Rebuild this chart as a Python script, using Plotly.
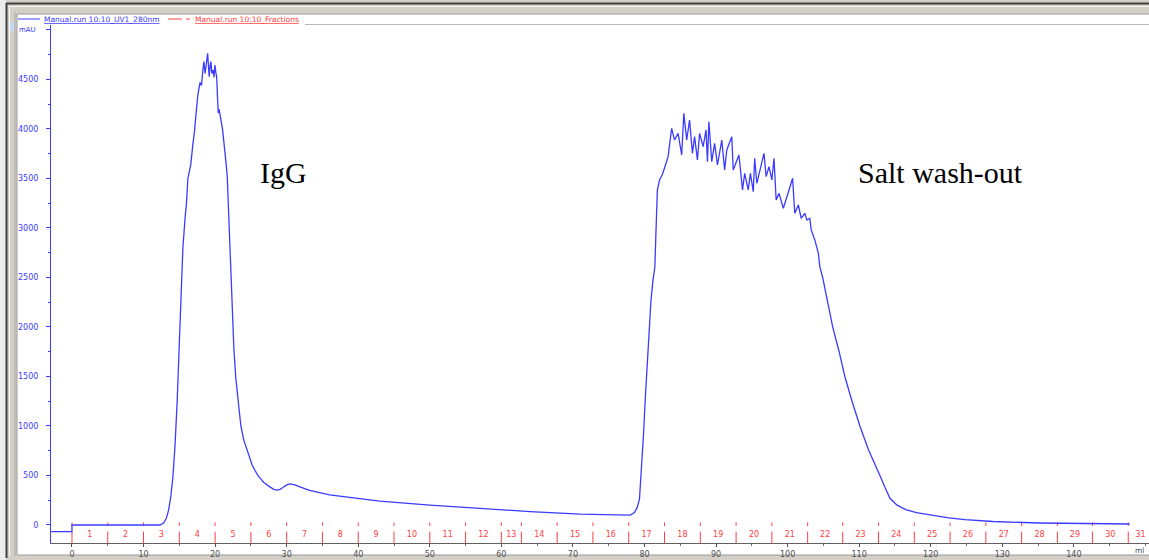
import plotly.graph_objects as go

# ---------------- data ----------------
uv_ml = [-2.9, 0.0, 0.0, 5.0, 10.0, 12.3, 12.8, 13.2, 13.5, 13.8, 14.1, 14.4, 14.7, 15.0, 15.2,
         15.5, 15.8, 16.0, 16.2, 16.35, 16.6, 16.9, 17.1, 17.4, 17.6, 17.9, 18.1, 18.3, 18.44,
         18.6, 18.8, 18.96, 19.1, 19.18, 19.3, 19.42, 19.55, 19.74, 19.85, 19.98, 20.1, 20.22,
         20.35, 20.44, 20.55, 20.68, 20.85, 21.05, 21.2, 21.37, 21.55, 21.7, 21.84, 21.95, 22.07,
         22.21, 22.4, 22.63, 22.9, 23.19, 23.6, 24.0, 24.45, 25.2, 25.98, 26.8, 27.66, 28.2,
         28.64, 29.1, 29.48, 30.0, 30.46, 31.15, 31.85, 33.2, 36.0, 40.2, 43.0, 46.5, 50.0, 57.0,
         64.0, 71.0, 75.0, 78.0, 78.6, 79.0, 79.3, 79.6, 79.9, 80.1, 80.5, 80.9, 81.2, 81.45,
         81.6, 81.8, 82.1, 82.5, 82.8, 83.3, 83.8, 84.2, 84.7, 85.2, 85.5, 85.9, 86.3, 86.7,
         87.0, 87.4, 87.7, 88.2, 88.6, 88.8, 89.0, 89.4, 89.8, 90.2, 90.8, 91.2, 91.5, 92.2,
         92.4, 92.9, 93.2, 93.7, 94.0, 94.5, 94.8, 95.2, 95.4, 95.7, 96.1, 96.7, 97.0, 97.4,
         97.8, 98.1, 98.4, 98.8, 99.4, 99.8, 100.2, 100.7, 101.0, 101.5, 101.9, 102.4, 102.7,
         103.1, 103.3, 103.8, 104.3, 104.5, 104.9, 105.6, 106.3, 107.2, 108.0, 109.0, 110.1,
         111.3, 112.2, 112.9, 113.6, 114.3, 115.3, 116.5, 118.0, 120.3, 122.5, 124.8, 128.7,
         135.2, 142.6, 147.8]
uv_mau = [-67, -67, 0, 0, 0, 0, 20, 70, 150, 280, 480, 800, 1250, 1850, 2390,
          2800, 3095, 3250, 3500, 3560, 3640, 3850, 3960, 4200, 4350, 4470, 4440, 4600, 4680,
          4560, 4700, 4765, 4600, 4528, 4640, 4680, 4560, 4596, 4520, 4646, 4570, 4528,
          4300, 4161, 4200, 4158, 4080, 3990, 3900, 3754, 3640, 3518, 3252, 3050, 2811,
          2407, 2050, 1770, 1480, 1260, 1000, 860, 760, 600, 500, 430, 385, 360,
          352, 360, 378, 405, 415, 405, 385, 350, 305, 265, 240, 220, 200, 168,
          135, 110, 102, 100, 125, 180, 260, 560, 960, 1260, 1760, 2260, 2480, 2600,
          2950, 3383, 3485, 3540, 3606, 3720, 4006, 3888, 3956, 3737, 4158, 3888, 4090, 3754,
          3922, 3686, 3956, 3821, 3990, 3670, 4073, 3670, 3855, 3636, 3888, 3586, 3788, 3922,
          3586, 3686, 3737, 3384, 3552, 3384, 3552, 3367, 3704, 3451, 3586, 3754, 3518, 3620,
          3485, 3704, 3283, 3350, 3199, 3283, 3384, 3502, 3148, 3232, 3098, 3148, 3081,
          3098, 2980, 2879, 2744, 2609, 2500, 2250, 2000, 1750, 1500, 1250, 1000,
          760, 620, 500, 380, 270, 200, 155, 125, 98, 72, 55, 35,
          20, 12, 10]

frac_ml = [0, 5, 10, 15, 20, 25, 30, 35, 40, 45, 50, 55, 60, 62.8, 67.8, 72.8, 77.8, 82.8,
           87.8, 92.8, 97.8, 102.8, 107.7, 112.7, 117.7, 122.7, 127.7, 132.7, 137.7, 142.6, 147.6]
frac_labels = [str(i) for i in range(1, 32)]

x_ticks = [0, 10, 20, 30, 40, 50, 60, 70, 80, 90, 100, 110, 120, 130, 140]
y_ticks = [0, 500, 1000, 1500, 2000, 2500, 3000, 3500, 4000, 4500, 5000]
y_ticktext = ["0", "500", "1000", "1500", "2000", "2500", "3000", "3500", "4000", "4500", ""]

uv_name = "Manual.run 10:10_UV1_280nm"
frac_name = "Manual.run 10:10_Fractions"

# ---------------- figure ----------------
W, H = 1149, 560
L, R, T, B = 51, 0, 25, 17
PW, PH = W - L - R, H - T - B


def px(x):
    return (x - L) / PW


def py(y):
    return (H - B - y) / PH


BLUE = "#3b3bff"
RED = "#ff4040"

fig = go.Figure()

# fraction marks (dashed red vertical lines)
fx, fy = [], []
for p in frac_ml:
    fx += [p, p, None, p, p, None]
    fy += [25, -10, None, -67, -185, None]
fig.add_trace(go.Scatter(x=fx, y=fy, mode="lines", name=frac_name,
                         line=dict(color=RED, width=1), hoverinfo="skip", cliponaxis=False))

# fraction labels
mid = [(frac_ml[i] + frac_ml[i + 1]) / 2 for i in range(len(frac_ml) - 1)] + [frac_ml[-1] + 1.7]
fig.add_trace(go.Scatter(x=mid, y=[-104] * len(mid), mode="text", text=frac_labels,
                         textfont=dict(family="DejaVu Sans", size=8, color=RED),
                         hoverinfo="skip", showlegend=False, cliponaxis=False))

fig.add_trace(go.Scatter(x=uv_ml, y=uv_mau, mode="lines", name=uv_name,
                         line=dict(color=BLUE, width=1.3), cliponaxis=False))

shapes = [
    dict(type="rect", xref="paper", yref="paper", x0=px(0), x1=px(6), y0=py(560), y1=py(0),
         fillcolor="#ececec", line=dict(width=0), layer="below"),
    dict(type="rect", xref="paper", yref="paper", x0=px(17), x1=px(1152), y0=py(555), y1=py(14),
         fillcolor="white", line=dict(color="#9a9a9a", width=1), layer="below"),
    dict(type="line", xref="paper", yref="paper", x0=px(6), x1=px(1152), y0=py(3.5), y1=py(3.5),
         line=dict(color="#404040", width=2)),
    dict(type="line", xref="paper", yref="paper", x0=px(6.5), x1=px(6.5), y0=py(558), y1=py(3),
         line=dict(color="#404040", width=2)),
    dict(type="line", xref="paper", yref="paper", x0=px(9.5), x1=px(9.5), y0=py(556), y1=py(6),
         line=dict(color="#f4f4f4", width=1)),
    dict(type="line", xref="paper", yref="paper", x0=px(8), x1=px(1152), y0=py(6.5), y1=py(6.5),
         line=dict(color="#f4f4f4", width=1)),
    dict(type="line", xref="paper", yref="paper", x0=px(15), x1=px(15), y0=py(556), y1=py(12),
         line=dict(color="#a8a8a8", width=1)),
    dict(type="rect", xref="paper", yref="paper", x0=px(10), x1=px(14), y0=py(31), y1=py(22),
         fillcolor="#c8d8f0", line=dict(width=0)),
    dict(type="line", xref="paper", yref="paper", x0=px(305), x1=px(1152), y0=py(24.5), y1=py(24.5),
         line=dict(color="#b8b8b8", width=1)),
    # legend line samples
    dict(type="line", xref="paper", yref="paper", x0=px(18), x1=px(40), y0=py(19), y1=py(19),
         line=dict(color=BLUE, width=1)),
    dict(type="line", xref="paper", yref="paper", x0=px(168), x1=px(182), y0=py(19), y1=py(19),
         line=dict(color=RED, width=1)),
    dict(type="line", xref="paper", yref="paper", x0=px(186), x1=px(190), y0=py(19), y1=py(19),
         line=dict(color=RED, width=1)),
]

annotations = [
    dict(xref="paper", yref="paper", x=px(42), y=py(19.5), xanchor="left", yanchor="middle",
         text="<u>" + uv_name + "</u>", showarrow=False,
         font=dict(family="DejaVu Sans", size=7.5, color=BLUE)),
    dict(xref="paper", yref="paper", x=px(193), y=py(19.5), xanchor="left", yanchor="middle",
         text="<u>" + frac_name + "</u>", showarrow=False,
         font=dict(family="DejaVu Sans", size=7.5, color=RED)),
    dict(xref="paper", yref="paper", x=px(17), y=py(30), xanchor="left", yanchor="middle",
         text="mAU", showarrow=False, font=dict(family="DejaVu Sans", size=7, color=BLUE)),
    dict(xref="paper", yref="paper", x=px(1146), y=py(550), xanchor="right", yanchor="middle",
         text="ml", showarrow=False, font=dict(family="DejaVu Sans", size=7.5, color="#505050")),
    dict(x=29.5, y=3565, text="IgG", showarrow=False,
         font=dict(family="Liberation Serif", size=30, color="black")),
    dict(x=121.3, y=3565, text="Salt wash-out", showarrow=False,
         font=dict(family="Liberation Serif", size=30, color="black")),
]

fig.update_layout(
    width=W, height=H,
    margin=dict(l=L, r=R, t=T, b=B, pad=0),
    paper_bgcolor="#d4d0c8",
    plot_bgcolor="white",
    showlegend=False,
    shapes=shapes,
    annotations=annotations,
    xaxis=dict(range=[-2.93, 150.5], showgrid=False, zeroline=False,
               tickmode="array", tickvals=x_ticks, ticks="outside", ticklen=3,
               tickcolor="#505050", showline=True, linecolor="#606060", linewidth=1,
               tickfont=dict(family="DejaVu Sans", size=8, color="#505050"),
               minor=dict(dtick=5, ticks="outside", ticklen=2, tickcolor="#707070")),
    yaxis=dict(range=[-182, 5050], showgrid=False, zeroline=False,
               tickmode="array", tickvals=y_ticks, ticktext=y_ticktext, ticks="outside",
               ticklen=4, tickcolor=BLUE, showline=True, linecolor=BLUE, linewidth=1,
               ticklabelstandoff=6,
               tickfont=dict(family="DejaVu Sans", size=8, color=BLUE),
               minor=dict(dtick=250, tick0=0, ticks="outside", ticklen=2, tickcolor=BLUE)),
)

fig.write_html("out.html")
